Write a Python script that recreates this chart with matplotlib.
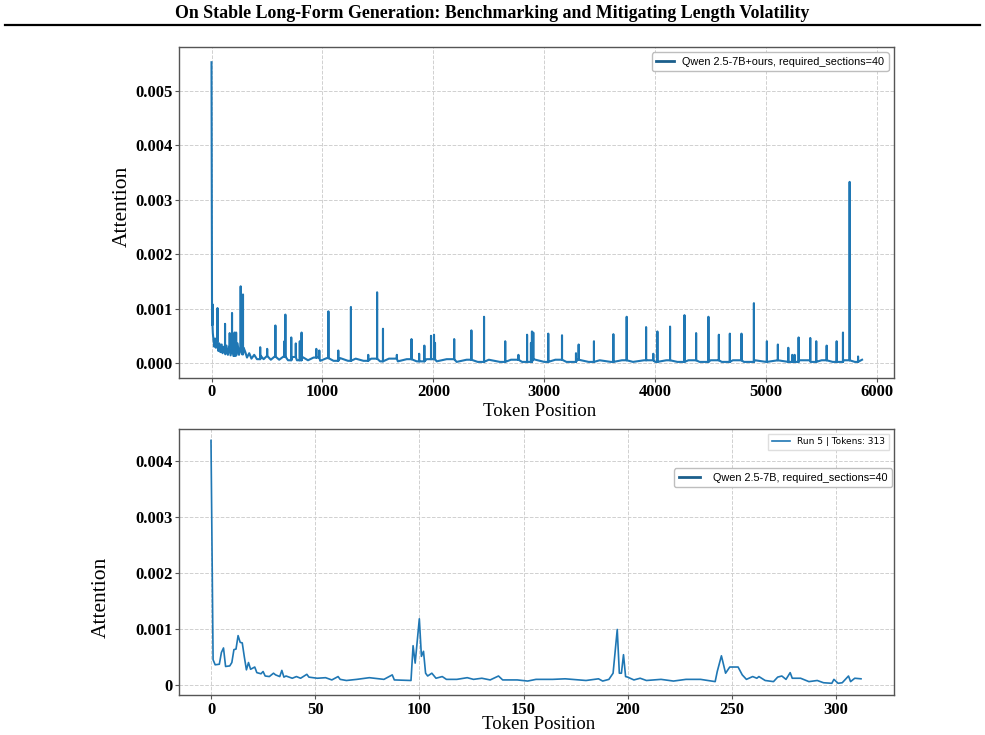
import numpy as np
import matplotlib
matplotlib.use("Agg")
import matplotlib.pyplot as plt
from matplotlib.lines import Line2D
from matplotlib.ticker import FuncFormatter, MultipleLocator

# --- data (attention values in units of 1e-3) ---
# top panel: Qwen 2.5-7B+ours, slowly decaying floor plus isolated spikes
top_base_pos = [0, 5, 12, 18, 25, 32, 40, 48, 62, 70, 80, 92, 100, 112, 125, 135, 148, 160,
                172, 185, 198, 210, 222, 235, 248, 262, 275, 290, 305, 320, 340, 360, 385,
                410, 440, 470, 500, 535, 570, 610, 650, 690, 730, 770, 820, 870, 920, 980,
                1040, 1100, 1160, 1230, 1300, 1370, 1440, 1520, 1600, 1680, 1760, 1850,
                1940, 2030, 2120, 2210, 2300, 2400, 2500, 2600, 2700, 2800, 2900, 3000,
                3100, 3200, 3300, 3400, 3500, 3600, 3700, 3800, 3900, 4000, 4100, 4200,
                4300, 4400, 4500, 4600, 4700, 4800, 4900, 5000, 5100, 5200, 5300, 5400,
                5500, 5600, 5700, 5800, 5865]
top_base_val = [5.53, 0.70, 0.55, 0.42, 0.30, 0.45, 0.28, 0.40, 0.22, 0.36, 0.20, 0.34, 0.18,
                0.30, 0.16, 0.32, 0.15, 0.30, 0.14, 0.26, 0.13, 0.38, 0.14, 0.36, 0.15, 0.30,
                0.16, 0.28, 0.20, 0.10, 0.18, 0.08, 0.15, 0.07, 0.14, 0.07, 0.13, 0.06, 0.12,
                0.06, 0.12, 0.05, 0.11, 0.05, 0.11, 0.05, 0.10, 0.04, 0.09, 0.04, 0.09, 0.04,
                0.08, 0.04, 0.08, 0.03, 0.08, 0.03, 0.07, 0.03, 0.07, 0.03, 0.07, 0.02, 0.06,
                0.02, 0.06, 0.02, 0.06, 0.02, 0.07, 0.02, 0.06, 0.02, 0.06, 0.02, 0.05, 0.02,
                0.05, 0.02, 0.05, 0.02, 0.05, 0.02, 0.05, 0.02, 0.05, 0.02, 0.05, 0.02, 0.05,
                0.02, 0.05, 0.02, 0.05, 0.02, 0.05, 0.02, 0.05, 0.02, 0.06]
top_spike_pos = [9, 54, 122, 164, 185, 208, 222, 263, 284, 439, 502, 576, 657, 666, 719, 760,
                 796, 812, 945, 972, 1054, 1143, 1257, 1413, 1493, 1546, 1671, 1803, 1872,
                 1919, 1979, 2006, 2015, 2188, 2343, 2457, 2648, 2767, 2845, 2880, 2889, 2901,
                 3036, 3160, 3286, 3310, 3448, 3623, 3743, 3918, 3983, 4020, 4134, 4264, 4369,
                 4480, 4574, 4673, 4778, 4890, 5007, 5106, 5200, 5236, 5257, 5293, 5398, 5452,
                 5546, 5636, 5693, 5753, 5829]
top_spike_val = [1.08, 1.01, 0.72, 0.55, 0.92, 0.56, 0.56, 1.41, 1.26, 0.29, 0.26, 0.69, 0.40,
                 0.89, 0.47, 0.36, 0.40, 0.56, 0.26, 0.23, 0.95, 0.23, 1.03, 0.15, 1.30, 0.63,
                 0.15, 0.44, 0.17, 0.32, 0.50, 0.52, 0.37, 0.44, 0.60, 0.85, 0.40, 0.15, 0.52,
                 0.37, 0.58, 0.56, 0.54, 0.51, 0.18, 0.34, 0.40, 0.53, 0.85, 0.66, 0.17, 0.58,
                 0.67, 0.88, 0.55, 0.85, 0.52, 0.54, 0.54, 1.10, 0.40, 0.34, 0.28, 0.15, 0.15,
                 0.47, 0.46, 0.40, 0.32, 0.40, 0.56, 3.33, 0.12]

# bottom panel: Qwen 2.5-7B, run 5 (313 tokens)
bot_pos = [0, 1, 2, 4, 5, 6, 7, 9, 10, 11, 12, 13, 14, 15, 16, 17, 18, 19, 20, 21, 22, 24, 25,
           26, 28, 30, 31, 33, 34, 35, 36, 39, 41, 43, 46, 47, 51, 55, 58, 61, 62, 65, 70, 76,
           83, 87, 88, 96, 97, 98, 100, 101, 102, 103, 104, 106, 108, 111, 113, 118, 123, 126,
           130, 134, 138, 140, 147, 152, 156, 164, 170, 180, 186, 188, 191, 193, 195, 196, 197,
           198, 199, 200, 203, 206, 209, 216, 222, 228, 235, 242, 243, 245, 247, 249, 253, 255,
           257, 260, 262, 263, 266, 270, 272, 274, 276, 278, 279, 283, 287, 291, 294, 298, 299,
           301, 303, 306, 307, 309, 312]
bot_val = [4.36, 0.45, 0.36, 0.37, 0.58, 0.66, 0.33, 0.34, 0.40, 0.63, 0.64, 0.88, 0.76, 0.75,
           0.50, 0.27, 0.40, 0.28, 0.30, 0.32, 0.22, 0.20, 0.24, 0.16, 0.15, 0.21, 0.18, 0.15,
           0.26, 0.14, 0.16, 0.12, 0.15, 0.12, 0.19, 0.14, 0.12, 0.13, 0.09, 0.15, 0.10, 0.08,
           0.10, 0.13, 0.10, 0.18, 0.09, 0.08, 0.70, 0.39, 1.18, 0.51, 0.60, 0.21, 0.16, 0.21,
           0.12, 0.15, 0.10, 0.10, 0.13, 0.10, 0.12, 0.09, 0.16, 0.09, 0.09, 0.07, 0.10, 0.10,
           0.11, 0.08, 0.11, 0.07, 0.10, 0.21, 0.99, 0.21, 0.21, 0.54, 0.15, 0.14, 0.09, 0.12,
           0.08, 0.10, 0.07, 0.10, 0.10, 0.06, 0.24, 0.52, 0.21, 0.32, 0.32, 0.18, 0.10, 0.15,
           0.12, 0.15, 0.08, 0.06, 0.14, 0.16, 0.10, 0.22, 0.12, 0.12, 0.06, 0.08, 0.04, 0.03,
           0.10, 0.03, 0.04, 0.16, 0.06, 0.12, 0.11]

title = "On Stable Long-Form Generation: Benchmarking and Mitigating Length Volatility"
top_label = "Qwen 2.5-7B+ours, required_sections=40"
bot_label = "Qwen 2.5-7B, required_sections=40"
run_label = "Run 5 | Tokens: 313"

LINE = "#1f77b4"
LEG_LINE = "#1b5f8c"
SERIF = "Liberation Serif"

plt.rcParams["font.family"] = SERIF

# merge floor and spikes into one polyline: each spike goes up and back down
# to the floor value read just before it
bp = np.array(top_base_pos, dtype=float)
bv = np.array(top_base_val)
xs, ys = list(bp), list(bv)
for p, v in zip(top_spike_pos, top_spike_val):
    floor = bv[np.searchsorted(bp, p, side="right") - 1]
    xs += [p - 0.01, p, p + 0.01]
    ys += [floor, v, floor]
order = np.argsort(xs, kind="stable")
top_x = np.array(xs)[order]
top_y = np.array(ys)[order] * 1e-3

fig = plt.figure(figsize=(9.85, 7.35), dpi=100)

# header like a paper page
fig.text(0.5, 1 - 13 / 735, title, ha="center", va="center", fontsize=12.9,
         fontweight="bold", family=SERIF)
fig.add_artist(Line2D([0.005, 0.995], [1 - 25 / 735] * 2, transform=fig.transFigure,
                      color="black", lw=1.6))

ax1 = fig.add_axes([179 / 985, 1 - 378 / 735, 715 / 985, 331 / 735])
ax2 = fig.add_axes([178.5 / 985, 1 - 695.3 / 735, 715 / 985, 266 / 735])


def style(ax):
    ax.grid(True, linestyle="--", color="#d0d0d0", linewidth=0.7)
    ax.set_axisbelow(True)
    for s in ax.spines.values():
        s.set_color("#555555")
        s.set_linewidth(1.0)
    ax.tick_params(colors="#555555", length=3.0, width=0.8, labelcolor="black",
                   labelsize=12, pad=1.5)
    for lab in ax.get_xticklabels() + ax.get_yticklabels():
        lab.set_fontweight("bold")
        lab.set_family(SERIF)


# ---- top panel ----
ax1.plot(top_x, top_y, color=LINE, lw=1.5)
ax1.set_xlim(-293, 6153)
ax1.set_ylim(-0.000276, 0.00581)
ax1.xaxis.set_major_locator(MultipleLocator(1000))
ax1.yaxis.set_major_locator(MultipleLocator(0.001))
ax1.yaxis.set_major_formatter(FuncFormatter(lambda v, p: f"{v:.3f}"))
style(ax1)
ax1.set_xlabel("Token Position", fontsize=13.5, va="center")
ax1.xaxis.set_label_coords(0.505, -0.100)
ax1.set_ylabel("Attention", fontsize=15.5, va="center")
ax1.yaxis.set_label_coords(-0.080, 0.52)
ax1.legend(handles=[Line2D([], [], color=LEG_LINE, lw=2)], labels=[top_label],
           loc="upper right", prop={"family": "Liberation Sans", "size": 7.8},
           handlelength=1.6, fancybox=True, edgecolor="#bbbbbb", framealpha=0.95)

# ---- bottom panel ----
run_line, = ax2.plot(bot_pos, np.array(bot_val) * 1e-3, color=LINE, lw=1.2)
ax2.set_xlim(-15.6, 327.6)
ax2.set_ylim(-0.000184, 0.004558)
ax2.xaxis.set_major_locator(MultipleLocator(50))
ax2.yaxis.set_major_locator(MultipleLocator(0.001))
ax2.yaxis.set_major_formatter(FuncFormatter(lambda v, p: "0" if abs(v) < 1e-9 else f"{v:.3f}"))
style(ax2)
ax2.set_xlabel("Token Position", fontsize=13.5, va="center")
ax2.xaxis.set_label_coords(0.503, -0.110)
ax2.set_ylabel("Attention", fontsize=15.5, va="center")
ax2.yaxis.set_label_coords(-0.1074, 0.368)

leg_run = ax2.legend([run_line], [run_label], loc="upper right",
                     prop={"family": "DejaVu Sans", "size": 6.5},
                     fancybox=False, edgecolor="#dddddd", framealpha=0.95)
ax2.add_artist(leg_run)
ax2.legend(handles=[Line2D([], [], color=LEG_LINE, lw=2)], labels=[bot_label],
           loc="upper right", bbox_to_anchor=(0.998, 0.853), borderaxespad=0,
           prop={"family": "Liberation Sans", "size": 7.8}, handlelength=2.0,
           handletextpad=1.2, fancybox=True, edgecolor="#bbbbbb", framealpha=0.95)

fig.savefig("out.png", dpi=100)
